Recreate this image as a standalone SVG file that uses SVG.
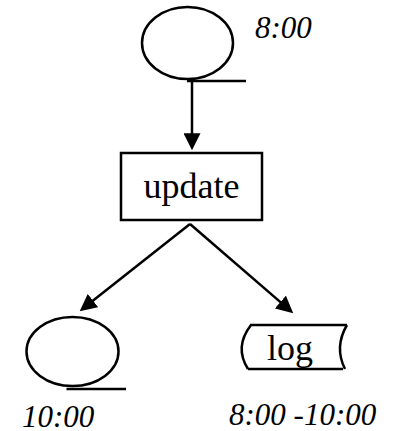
<svg xmlns="http://www.w3.org/2000/svg" width="397" height="431" viewBox="0 0 397 431">
<style>
.s{fill:none;stroke:#000;stroke-width:2.5}
.w{fill:#fff;stroke:#000;stroke-width:2.5}
.lbl{font-family:"Liberation Serif",serif;font-size:36px;fill:#000}
.t{font-family:"Liberation Serif",serif;font-style:italic;font-size:31px;fill:#000}
</style>
<defs>
<marker id="ah" viewBox="0 0 10 10" markerUnits="userSpaceOnUse" markerWidth="17" markerHeight="17" refX="7.5" refY="5" orient="auto">
<path d="M0,0 L10,5 L0,10 z" fill="#000"/>
</marker>
</defs>
<g id="connectors">
<line class="s" x1="192" y1="81" x2="192" y2="146" marker-end="url(#ah)"/>
<line class="s" x1="190" y1="224" x2="83" y2="308.5" marker-end="url(#ah)"/>
<line class="s" x1="190" y1="224" x2="290" y2="310.4" marker-end="url(#ah)"/>
</g>
<g id="start">
<ellipse class="s" cx="187.5" cy="43" rx="45.5" ry="36"/>
<line class="s" x1="187" y1="81" x2="246" y2="81"/>
<text class="t" x="255" y="38">8:00</text>
</g>
<g id="update">
<rect class="w" x="121" y="153" width="141" height="67"/>
<text class="lbl" x="191.5" y="198" text-anchor="middle">update</text>
</g>
<g id="end">
<ellipse class="s" cx="72.5" cy="351.5" rx="46" ry="34.5"/>
<line class="s" x1="66.5" y1="389" x2="126" y2="389"/>
<text class="t" x="22" y="427">10:00</text>
</g>
<g id="log">
<path class="s" d="M250,325 L347,325 M248,369 L343,369 M251,325 Q234,347 248,369 M347,325 Q334,347 345,369"/>
<text class="lbl" x="290" y="360" text-anchor="middle">log</text>
<text class="t" x="229" y="425">8:00 -10:00</text>
</g>
</svg>
